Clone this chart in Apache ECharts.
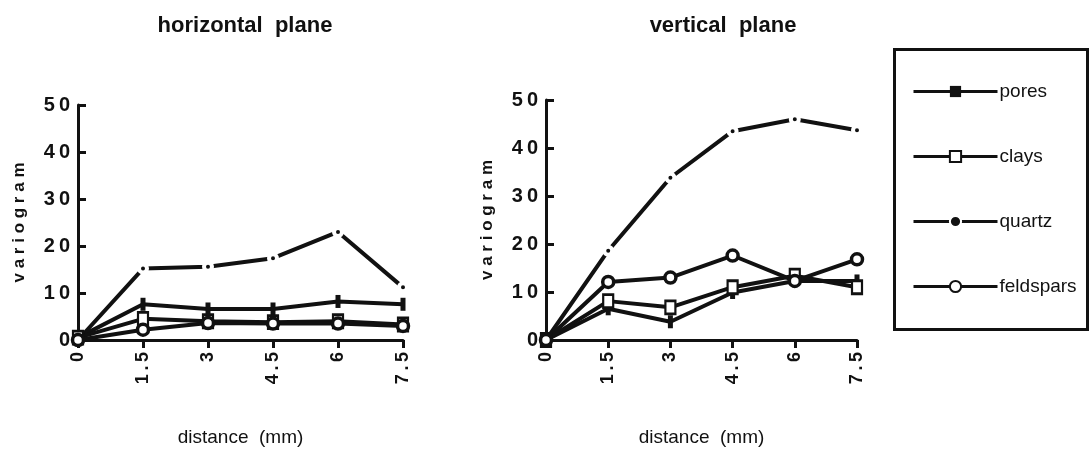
<!DOCTYPE html>
<html>
<head>
<meta charset="utf-8">
<script src="https://cdn.jsdelivr.net/npm/echarts@6/dist/echarts.min.js"></script>
<style>
  html, body { margin: 0; padding: 0; background: #fff; }
  #chart { width: 1089px; height: 452px; }
</style>
</head>
<body>
<div id="chart"></div>
<script>
const distances = [0, 1.5, 3, 4.5, 6, 7.5]
const yTicks = [0, 10, 20, 30, 40, 50]

// horizontal plane
const hPores = [0.5, 7.6, 6.6, 6.6, 8.2, 7.6]
const hClays = [0.5, 4.5, 4.0, 3.8, 4.0, 3.3]
const hQuartz = [0, 15.2, 15.6, 17.4, 23.0, 11.2]
const hFeldspars = [0, 2.2, 3.6, 3.5, 3.5, 3.0]

// vertical plane
const vPores = [0, 6.5, 3.8, 9.9, 12.3, 12.3]
const vClays = [0, 8.1, 6.8, 11.0, 13.4, 11.0]
const vQuartz = [0, 18.6, 33.8, 43.5, 46.0, 43.7]
const vFeldspars = [0, 12.1, 13.0, 17.6, 12.3, 16.8]

const seriesNames = ['pores', 'clays', 'quartz', 'feldspars']
const ink = '#111'
const font = '"Liberation Sans Narrow", "Liberation Sans", Arial, sans-serif'
const boldFont = 'Arial, "Liberation Sans", sans-serif'

const styles = {
  pores: { symbol: 'rect', symbolSize: [5, 13], itemStyle: { color: ink } },
  clays: { symbol: 'rect', symbolSize: [10, 13], itemStyle: { color: '#fff', borderColor: ink, borderWidth: 2.5 } },
  quartz: { symbol: 'circle', symbolSize: 8, itemStyle: { color: ink, borderColor: '#fff', borderWidth: 4 } },
  feldspars: { symbol: 'circle', symbolSize: 11, itemStyle: { color: '#fff', borderColor: ink, borderWidth: 3.5 } },
}

function pairs(vals) {
  return distances.map((d, i) => [d, vals[i]])
}

function makeSeries(name, vals, idx) {
  return {
    name,
    type: 'line',
    xAxisIndex: idx,
    yAxisIndex: idx,
    data: pairs(vals),
    showSymbol: true,
    ...styles[name],
    lineStyle: { color: ink, width: 4 },
    z: name === 'clays' || name === 'feldspars' ? 4 : 3,
  }
}

function xAxis(idx) {
  return {
    type: 'value',
    gridIndex: idx,
    min: 0,
    max: 7.5,
    interval: 1.5,
    name: 'distance  (mm)',
    nameLocation: 'middle',
    nameGap: 88,
    nameTextStyle: { fontFamily: font, fontSize: 19, color: ink },
    splitLine: { show: false },
    axisLine: { lineStyle: { color: ink, width: 3 } },
    axisTick: { length: 8, lineStyle: { color: ink, width: 3 } },
    axisLabel: {
      rotate: 90,
      margin: 12,
      fontFamily: boldFont,
      fontWeight: 'bold',
      fontSize: 18,
      color: ink,
      formatter: (v) => String(v).split('').join('\u2009'),
    },
  }
}

function yAxis(idx) {
  return {
    type: 'value',
    gridIndex: idx,
    min: 0,
    max: 50,
    interval: 10,
    name: 'v a r i o g r a m',
    nameLocation: 'middle',
    nameGap: 50,
    nameTextStyle: { fontFamily: boldFont, fontWeight: 'bold', fontSize: 17, color: ink },
    splitLine: { show: false },
    axisLine: { show: true, lineStyle: { color: ink, width: 3 } },
    axisTick: { show: true, inside: true, length: 8, lineStyle: { color: ink, width: 3 } },
    axisLabel: {
      margin: 8,
      fontFamily: boldFont,
      fontWeight: 'bold',
      fontSize: 20,
      color: ink,
      formatter: (v) => yTicks.includes(v) ? String(v).split('').join('\u2009') : '',
    },
  }
}

const chart = echarts.init(document.getElementById('chart'))
chart.setOption({
  backgroundColor: '#fff',
  animation: false,
  title: [
    { text: 'horizontal  plane', left: 240, top: 10, textAlign: 'center', textStyle: { fontFamily: font, fontSize: 22, fontWeight: 'bold', color: ink } },
    { text: 'vertical  plane', left: 718, top: 10, textAlign: 'center', textStyle: { fontFamily: font, fontSize: 22, fontWeight: 'bold', color: ink } },
  ],
  grid: [
    { left: 78, top: 105, width: 325, height: 242 },
    { left: 546, top: 100, width: 311, height: 247 },
  ],
  xAxis: [xAxis(0), xAxis(1)],
  yAxis: [yAxis(0), yAxis(1)],
  legend: {
    data: seriesNames,
    orient: 'vertical',
    left: 907,
    top: 77,
    itemWidth: 84,
    itemHeight: 14,
    itemGap: 46,
    lineStyle: { width: 3 },
    textStyle: { fontFamily: font, fontSize: 19, color: ink, padding: [0, 0, 0, -3] },
  },
  graphic: [
    { type: 'rect', left: 892, top: 47, shape: { width: 193, height: 280 }, style: { fill: 'none', stroke: ink, lineWidth: 3 } },
  ],
  series: [
    makeSeries('pores', hPores, 0),
    makeSeries('clays', hClays, 0),
    makeSeries('quartz', hQuartz, 0),
    makeSeries('feldspars', hFeldspars, 0),
    makeSeries('pores', vPores, 1),
    makeSeries('clays', vClays, 1),
    makeSeries('quartz', vQuartz, 1),
    makeSeries('feldspars', vFeldspars, 1),
  ],
})
</script>
</body>
</html>
